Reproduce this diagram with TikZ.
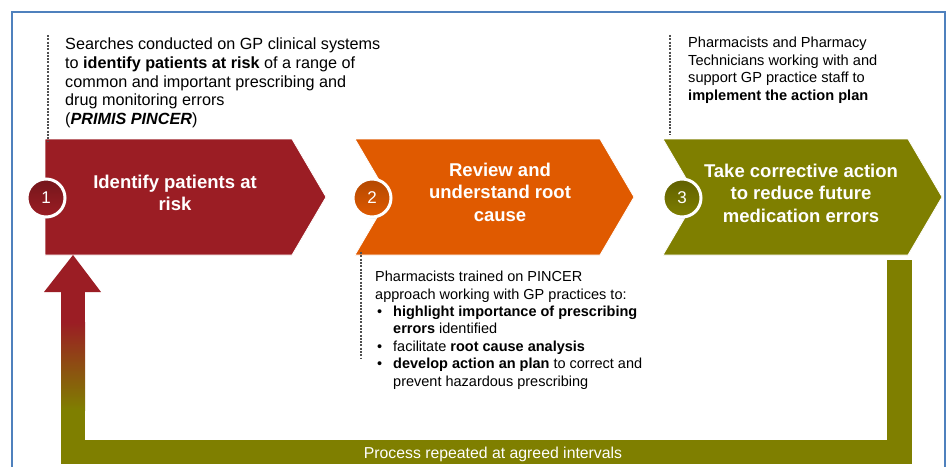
\documentclass[tikz,border=0pt]{standalone}
\usepackage{fontspec}
\setmainfont{Liberation Sans}
\usetikzlibrary{shadows}

\definecolor{stepred}{HTML}{9B1D24}
\definecolor{steporange}{HTML}{E05A00}
\definecolor{stepolive}{HTML}{7F7F00}
\definecolor{framebl}{HTML}{4F81BD}
\definecolor{dotgray}{HTML}{505050}

\newcommand{\itembul}{\hspace*{2pt}\makebox[16pt][l]{\textbullet}}
\newcommand{\itemind}{\hspace*{18pt}}

\begin{document}
\begin{tikzpicture}[x=1pt, y=-1pt,
        chev/.style={draw=white, line width=0.8pt},
        steptext/.style={text=white, font=\fontsize{18.5}{22.5}\selectfont\bfseries, align=center},
        badge/.style={circle, minimum size=38pt, inner sep=0pt, draw=white, line width=3pt, text=white,
            font=\fontsize{17}{20}\selectfont, drop shadow={shadow xshift=1pt, shadow yshift=-1.5pt, opacity=0.35}},
        note/.style={anchor=north west, align=left, inner sep=0pt},
        lead/.style={dotgray, line width=2.2pt, dash pattern=on 2pt off 1.3pt}]
        \useasboundingbox (0,0) rectangle (950,466);
        \fill[white] (0,0) rectangle (950,466);
        \draw[framebl, line width=2.8pt] (12,12) rectangle (945,490);

        % the three steps
        \fill[stepred, chev] (45,139) -- (292,139) -- (326,197) -- (292,255) -- (45,255) -- cycle;
        \fill[steporange, chev] (355,139) -- (600,139) -- (634,197) -- (600,255) -- (355,255) -- (389,197) -- cycle;
        \fill[stepolive, chev] (663,139) -- (908,139) -- (942,197) -- (908,255) -- (663,255) -- (697,197) -- cycle;

        \node[steptext] (step1) at (175,193) {Identify patients at\\risk};
        \node[steptext] (step2) at (500,192) {Review and\\understand root\\cause};
        \node[steptext] (step3) at (801,193) {Take corrective action\\to reduce future\\medication errors};

        \node[badge, top color=stepred!75!black, bottom color=stepred] (num1) at (46,198) {1};
        \node[badge, top color=steporange!80!black, bottom color=steporange] (num2) at (372,198) {2};
        \node[badge, top color=stepolive!75!black, bottom color=stepolive] (num3) at (682,198) {3};

        % notes
        \node[note, font=\fontsize{16.2}{18.6}\selectfont] (note1) at (65,38)
            {Searches conducted on GP clinical systems\\
             to \textbf{identify patients at risk} of a range of\\
             common and important prescribing and\\
             drug monitoring errors\\
             (\textbf{\textit{PRIMIS PINCER}})};
        \node[note, font=\fontsize{14.5}{17.4}\selectfont] (note2) at (375,271)
            {Pharmacists trained on PINCER\\
             approach working with GP practices to:\\
             \itembul\textbf{highlight importance of prescribing}\\
             \itemind\textbf{errors} identified\\
             \itembul facilitate \textbf{root cause analysis}\\
             \itembul\textbf{develop action an plan} to correct and\\
             \itemind prevent hazardous prescribing};
        \node[note, font=\fontsize{14.6}{17.5}\selectfont] (note3) at (688,37)
            {Pharmacists and Pharmacy\\
             Technicians working with and\\
             support GP practice staff to\\
             \textbf{implement the action plan}};

        \draw[lead] ([xshift=-17pt, yshift=3pt]note1.north west) -- ++(0,106);
        \draw[lead] ([xshift=-14pt, yshift=19pt]note2.north west) -- ++(0,106);
        \draw[lead] ([xshift=-18pt, yshift=2pt]note3.north west) -- ++(0,100);

        % loop back to step 1
        \coordinate (loopin) at (900,260);
        \coordinate (loopout) at (73,255);
        \fill[stepolive] (loopin) ++(-13,0) rectangle (912,464);
        \fill[stepolive] (61,440) rectangle (912,464);
        \fill[stepolive] (61,409) rectangle (85,441);
        \shade[top color=stepred, bottom color=stepolive] (61,322) rectangle (85,410);
        \fill[stepred] (61,290) rectangle (85,323);
        \fill[stepred] (loopout) -- ++(28,37) -- ++(-57,0) -- cycle;
        \node[text=white, font=\fontsize{15.8}{18}\selectfont] (again) at (493,454) {Process repeated at agreed intervals};
    \end{tikzpicture}
\end{document}
